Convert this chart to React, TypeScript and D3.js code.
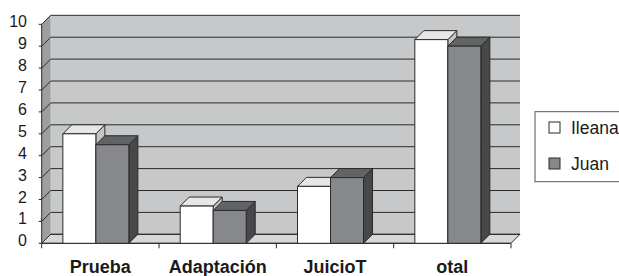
import * as d3 from 'd3'
import React from 'react'

const categories = ['Prueba', 'Adaptación', 'JuicioT', 'otal']
const seriesNames = ['Ileana', 'Juan']
const ileana = [5, 1.7, 2.6, 9.3]
const juan = [4.5, 1.5, 3.0, 9.0]
const yTicks = [0, 1, 2, 3, 4, 5, 6, 7, 8, 9, 10]

const W = 619
const H = 276
const depth = 9
const left = 41.7
const right = 511
const font = '"Liberation Sans", Arial, sans-serif'

const faces = {
    Ileana: { front: '#ffffff', top: '#e6e7e8', side: '#c4c5c7' },
    Juan: { front: '#87888b', top: '#626365', side: '#47484a' },
} as Record<string, { front: string; top: string; side: string }>

const App = (): JSX.Element => {
    const x = d3.scaleBand().domain(categories).range([left, right])
    const y = d3.scaleLinear().domain([0, 10]).range([243.3, 24.3])
    const inner = d3.scaleBand().domain(seriesNames).range([0, 66])
    const offset = (x.bandwidth() - 66 - depth) / 2
    const y0 = y(0)
    const pts = (p: number[][]) => p.map((d) => d.join(',')).join(' ')
    const stroke = '#2a2a2a'

    const bars = [] as JSX.Element[]
    categories.forEach((c, i) => {
        ;[ileana[i], juan[i]].forEach((v, j) => {
            const name = seriesNames[j]
            const x0 = (x(c) as number) + offset + (inner(name) as number)
            const x1 = x0 + inner.bandwidth()
            const yt = y(v)
            const f = faces[name]
            bars.push(
                <g key={`${c}-${name}`} stroke={stroke} strokeWidth={1} strokeLinejoin="round">
                    <polygon
                        points={pts([[x1, y0], [x1 + depth, y0 - depth], [x1 + depth, yt - depth], [x1, yt]])}
                        fill={f.side}
                    />
                    <polygon
                        points={pts([[x0, yt], [x0 + depth, yt - depth], [x1 + depth, yt - depth], [x1, yt]])}
                        fill={f.top}
                    />
                    <rect x={x0} y={yt} width={x1 - x0} height={y0 - yt} fill={f.front} />
                </g>,
            )
        })
    })

    return (
        <svg
            width={W}
            height={H}
            style={{ position: 'absolute', left: 0, top: 0, background: '#fff' }}
            fontFamily={font}
        >
            {/* walls */}
            <rect x={left + depth} y={y(10) - depth} width={right - left} height={y0 - y(10)} fill="#c7c8ca" />
            <polygon
                points={pts([[left, y0], [left, y(10)], [left + depth, y(10) - depth], [left + depth, y0 - depth]])}
                fill="#9d9ea0"
            />
            <polygon
                points={pts([[left, y0], [right, y0], [right + depth, y0 - depth], [left + depth, y0 - depth]])}
                fill="#d6d8da"
                stroke={stroke}
                strokeWidth={1}
            />
            {/* gridlines */}
            {yTicks.map((t) => (
                <g key={`g${t}`} stroke={stroke} strokeWidth={1} fill="none">
                    <line x1={left + depth} x2={right + depth} y1={y(t) - depth} y2={y(t) - depth} />
                    <line x1={left} x2={left + depth} y1={y(t)} y2={y(t) - depth} />
                </g>
            ))}
            {/* axes */}
            <line x1={left} x2={left} y1={y(10)} y2={y0} stroke={stroke} />
            <line x1={left} x2={right} y1={y0} y2={y0} stroke={stroke} />
            {yTicks.map((t) => (
                <g key={`t${t}`}>
                    <line x1={left - 3} x2={left} y1={y(t)} y2={y(t)} stroke={stroke} />
                    <text x={27} y={y(t) + 3} textAnchor="end" fontSize={16} fill="#1a1a1a">
                        {t}
                    </text>
                </g>
            ))}
            {[...categories.map((c) => x(c) as number), right].map((v, i) => (
                <line key={`xt${i}`} x1={v} x2={v} y1={y0} y2={y0 + 5} stroke={stroke} />
            ))}
            {bars}
            {categories.map((c) => (
                <text
                    key={`c${c}`}
                    x={(x(c) as number) + x.bandwidth() / 2}
                    y={273}
                    textAnchor="middle"
                    fontSize={18}
                    fontWeight="bold"
                    fill="#1a1a1a"
                >
                    {c}
                </text>
            ))}
            {/* legend */}
            <rect x={535} y={111.7} width={100} height={70} fill="#fff" stroke="#555" />
            {seriesNames.map((s, i) => (
                <g key={`l${s}`}>
                    <rect x={549} y={122 + i * 36} width={11} height={11} fill={faces[s].front} stroke={stroke} />
                    <text x={571} y={134 + i * 36} fontSize={17.5} fill="#1a1a1a">
                        {s}
                    </text>
                </g>
            ))}
        </svg>
    )
}

export default App
